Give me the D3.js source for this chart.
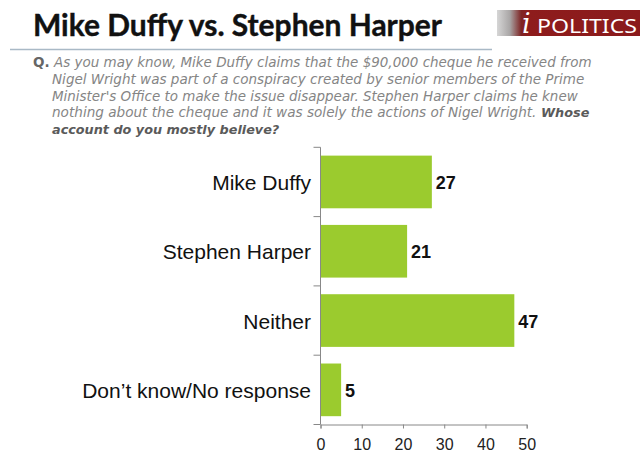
<!DOCTYPE html>
<html>
<head>
<meta charset="utf-8">
<script src="https://cdn.jsdelivr.net/npm/d3@7"></script>
<style>
  body { margin: 0; background: #fff; }
  svg { display: block; }
</style>
</head>
<body>
<script>
// survey answers, in percent
var categories = ["Mike Duffy", "Stephen Harper", "Neither", "Don\u2019t know/No response"];
var values = [27, 21, 47, 5];
var xTicks = [0, 10, 20, 30, 40, 50];

var title = "Mike Duffy vs. Stephen Harper";
// question pieces: text, line, x, width, bold
var questionParts = [
  ["As you may know, Mike Duffy claims that the $90,000 cheque he received from", 0, 54, 538, false],
  ["Nigel Wright was part of a conspiracy created by senior members of the Prime", 1, 52, 533, false],
  ["Minister's Office to make the issue disappear. Stephen Harper claims he knew", 2, 52, 526, false],
  ["nothing about the cheque and it was solely the actions of Nigel Wright.", 3, 52, 485, false],
  ["Whose", 3, 541, 45, true],
  ["account do you mostly believe?", 4, 52, 219, true]
];

var width = 640, height = 456;
var svg = d3.select("body").append("svg")
  .attr("width", width)
  .attr("height", height);

// header
svg.append("text")
  .attr("x", 33).attr("y", 36)
  .attr("font-family", "Lato, 'Noto Sans', sans-serif")
  .attr("font-weight", 700)
  .attr("font-size", 30)
  .attr("fill", "#111")
  .attr("stroke", "#111")
  .attr("stroke-width", 0.4)
  .attr("textLength", 409)
  .attr("lengthAdjust", "spacingAndGlyphs")
  .text(title);

svg.append("line")
  .attr("x1", 10).attr("x2", 492)
  .attr("y1", 49.5).attr("y2", 49.5)
  .attr("stroke", "#a9b9c6")
  .attr("stroke-width", 1.5);

// logo
var grad = svg.append("defs").append("linearGradient")
  .attr("id", "logoGrad").attr("x1", "0%").attr("x2", "100%");
grad.append("stop").attr("offset", "0%").attr("stop-color", "#d6d6d6");
grad.append("stop").attr("offset", "9%").attr("stop-color", "#a9a6a6");
grad.append("stop").attr("offset", "17%").attr("stop-color", "#7e2424");
grad.append("stop").attr("offset", "22%").attr("stop-color", "#8e1c1c");
grad.append("stop").attr("offset", "100%").attr("stop-color", "#8a1a1c");
svg.append("rect")
  .attr("x", 497).attr("y", 10)
  .attr("width", 143).attr("height", 26)
  .attr("fill", "url(#logoGrad)");
svg.append("text")
  .attr("x", 522).attr("y", 33)
  .attr("font-family", "'DejaVu Serif', serif")
  .attr("font-style", "italic")
  .attr("font-size", 27)
  .attr("fill", "#fff")
  .text("i");
svg.append("text")
  .attr("x", 537).attr("y", 33)
  .attr("font-family", "'Noto Sans', sans-serif")
  .attr("font-size", 20)
  .attr("fill", "#fff")
  .attr("textLength", 100)
  .attr("lengthAdjust", "spacingAndGlyphs")
  .text("POLITICS");

// question
svg.append("text")
  .attr("x", 33).attr("y", 67)
  .attr("font-family", "'DejaVu Sans', sans-serif")
  .attr("font-weight", "bold")
  .attr("font-size", 13.5)
  .attr("fill", "#666")
  .text("Q.");

// font size of each piece is fitted so its natural width matches the reference
svg.selectAll("text.q")
  .data(questionParts)
  .enter().append("text")
  .attr("class", "q")
  .attr("x", function(d) { return d[2]; })
  .attr("y", function(d) { return 67 + d[1] * 16.8; })
  .attr("font-family", "'DejaVu Sans', sans-serif")
  .attr("font-size", 14)
  .attr("font-style", "italic")
  .attr("font-weight", function(d) { return d[4] ? "bold" : "normal"; })
  .attr("fill", function(d) { return d[4] ? "#5a5a5a" : "#858585"; })
  .text(function(d) { return d[0]; })
  .each(function(d) {
    var w = this.getComputedTextLength();
    var fs = Math.max(12.8, Math.min(14.5, 14 * d[3] / w));
    d3.select(this).attr("font-size", fs);
  });

// chart
var x = d3.scaleLinear().domain([0, 50]).range([320.5, 526.7]);
var y = d3.scaleBand().domain(categories).range([147.3, 424.5])
  .paddingInner(0.24).paddingOuter(0.12);

var g = svg.append("g");

g.selectAll("rect.bar")
  .data(values)
  .enter().append("rect")
  .attr("class", "bar")
  .attr("x", x(0))
  .attr("y", function(d, i) { return y(categories[i]); })
  .attr("width", function(d) { return x(d) - x(0); })
  .attr("height", y.bandwidth())
  .attr("fill", "#9bcb2e");

g.selectAll("text.val")
  .data(values)
  .enter().append("text")
  .attr("class", "val")
  .attr("x", function(d) { return x(d) + 4; })
  .attr("y", function(d, i) { return y(categories[i]) + y.bandwidth() / 2; })
  .attr("dy", "0.4em")
  .attr("font-family", "'Liberation Sans', Arial, sans-serif")
  .attr("font-weight", "bold")
  .attr("font-size", 18)
  .attr("fill", "#111")
  .text(function(d) { return d; });

g.selectAll("text.cat")
  .data(categories)
  .enter().append("text")
  .attr("class", "cat")
  .attr("x", 311)
  .attr("y", function(d) { return y(d) + y.bandwidth() / 2; })
  .attr("dy", "0.38em")
  .attr("text-anchor", "end")
  .attr("font-family", "'Liberation Sans', Arial, sans-serif")
  .attr("font-size", 21)
  .attr("fill", "#111")
  .text(function(d) { return d; });

// y axis: line plus ticks between bands
var step = y.step();
var edges = categories.map(function(c) { return y(c) - step * y.paddingInner() / 2; });
edges.push(y.range()[1]);
g.append("line")
  .attr("x1", x(0)).attr("x2", x(0))
  .attr("y1", edges[0]).attr("y2", y.range()[1])
  .attr("stroke", "#888");
g.selectAll("line.ytick")
  .data(edges)
  .enter().append("line")
  .attr("class", "ytick")
  .attr("x1", x(0) - 7).attr("x2", x(0))
  .attr("y1", function(d) { return d; }).attr("y2", function(d) { return d; })
  .attr("stroke", "#888");

// x axis
var xAxis = g.append("g")
  .attr("transform", "translate(0," + y.range()[1] + ")")
  .call(d3.axisBottom(x).tickValues(xTicks).tickSize(4).tickPadding(10));
xAxis.select(".domain").attr("stroke", "#888");
xAxis.selectAll(".tick line").attr("stroke", "#888");
xAxis.selectAll("text")
  .attr("font-family", "'Liberation Sans', Arial, sans-serif")
  .attr("font-size", 16)
  .attr("fill", "#222");
</script>
</body>
</html>
